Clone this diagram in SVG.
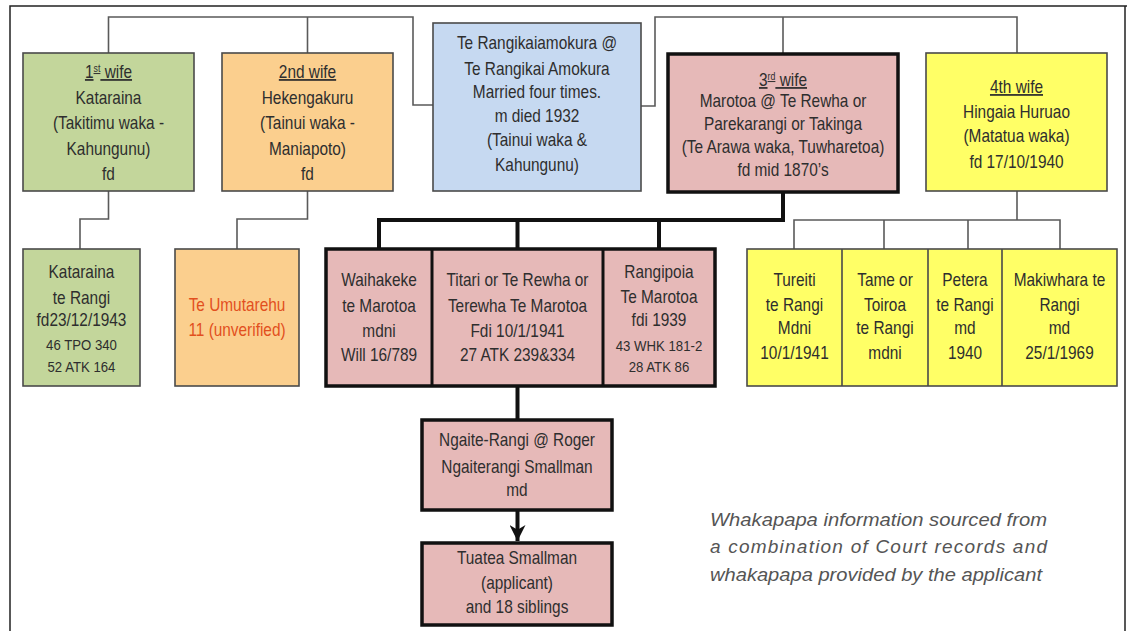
<svg xmlns="http://www.w3.org/2000/svg" width="1127" height="631" viewBox="0 0 1127 631">
<defs>
<style>
.t{font-family:"Liberation Sans",Arial,sans-serif;font-size:17.5px;fill:#2e2e2e;text-anchor:middle}
.s{font-size:15px}
.u{text-decoration:underline}
.thin{fill:none;stroke:#5a5a5a;stroke-width:1.6}
.thick{fill:none;stroke:#111;stroke-width:4}
.bx{stroke:#4a4a4a;stroke-width:1.6}
.pk{fill:#e6b9b8;stroke:#111;stroke-width:3.5}
.g{fill:#c3d69b}.o{fill:#fbcf8e}.b{fill:#c6d9f1}.y{fill:#ffff66}
.note{font-family:"Liberation Sans",Arial,sans-serif;font-style:italic;font-size:19px;fill:#555}
</style>
<marker id="ar" viewBox="0 0 10 10" refX="10" refY="5" markerWidth="4" markerHeight="4" orient="auto" markerUnits="strokeWidth">
<path d="M0,0 L10,5 L0,10 L3,5 Z" fill="#111"/>
</marker>
</defs>
<rect x="0" y="0" width="1127" height="631" fill="#fff"/>
<path d="M10,631 V6 H1127 M1125,6 V631" fill="none" stroke="#222" stroke-width="1.5"/>

<g id="connectors">
<path class="thin" d="M108.5,53 V17 H413 V105 H433"/>
<path class="thin" d="M307.5,17 V53"/>
<path class="thin" d="M641,106 H655 V17 H1017 V53"/>
<path class="thin" d="M783,17 V53"/>
<path class="thin" d="M108.5,191 V219 H80 V249"/>
<path class="thin" d="M307.5,191 V219 H237 V249"/>
<path class="thick" d="M783,192 V220 H379 V249"/>
<path class="thick" d="M517.5,220 V249 M659,220 V249"/>
<path class="thin" d="M1017,191 V220 M794,249 V220 H1060 V249 M884,220 V249 M968,220 V249"/>
<path class="thick" d="M517.5,386 V420"/>
<path class="thick" d="M517.5,510 V541" marker-end="url(#ar)"/>
</g>

<g id="wife1">
<rect class="bx g" x="23" y="53" width="171" height="138"/>
<g transform="matrix(0.88 0 0 1 13.02 0)">
<text class="t" x="108.5" y="78"><tspan class="u">1<tspan font-size="10" dy="-6">st</tspan><tspan dy="6"> wife</tspan></tspan></text>
<text class="t" x="108.5" y="104">Kataraina</text>
<text class="t" x="108.5" y="129">(Takitimu waka -</text>
<text class="t" x="108.5" y="155">Kahungunu)</text>
<text class="t" x="108.5" y="180">fd</text>
</g>
</g>

<g id="wife2">
<rect class="bx o" x="222" y="53" width="171" height="138"/>
<g transform="matrix(0.88 0 0 1 36.9 0)">
<text class="t u" x="307.5" y="78">2nd wife</text>
<text class="t" x="307.5" y="104">Hekengakuru</text>
<text class="t" x="307.5" y="129">(Tainui waka -</text>
<text class="t" x="307.5" y="155">Maniapoto)</text>
<text class="t" x="307.5" y="180">fd</text>
</g>
</g>

<g id="father">
<rect class="bx b" x="433" y="23" width="208" height="168"/>
<g transform="matrix(0.88 0 0 1 64.44 0)">
<text class="t" x="537" y="49">Te Rangikaiamokura @</text>
<text class="t" x="537" y="75">Te Rangikai Amokura</text>
<text class="t" x="537" y="98">Married four times.</text>
<text class="t" x="537" y="122">m died 1932</text>
<text class="t" x="537" y="146">(Tainui waka &amp;</text>
<text class="t" x="537" y="171">Kahungunu)</text>
</g>
</g>

<g id="wife3">
<rect class="pk" x="668" y="54" width="230" height="138"/>
<g transform="matrix(0.88 0 0 1 93.96 0)">
<text class="t" x="783" y="86"><tspan class="u">3<tspan font-size="10" dy="-6">rd</tspan><tspan dy="6"> wife</tspan></tspan></text>
<text class="t" x="783" y="107">Marotoa @ Te Rewha or</text>
<text class="t" x="783" y="130">Parekarangi or Takinga</text>
<text class="t" x="783" y="153">(Te Arawa waka, Tuwharetoa)</text>
<text class="t" x="783" y="176">fd mid 1870’s</text>
</g>
</g>

<g id="wife4">
<rect class="bx y" x="926" y="53" width="181" height="138"/>
<g transform="matrix(0.88 0 0 1 121.98 0)">
<text class="t u" x="1016.5" y="93">4th wife</text>
<text class="t" x="1016.5" y="118">Hingaia Huruao</text>
<text class="t" x="1016.5" y="142">(Matatua waka)</text>
<text class="t" x="1016.5" y="168">fd 17/10/1940</text>
</g>
</g>

<g id="kataraina">
<rect class="bx g" x="23" y="249" width="117" height="137"/>
<g transform="matrix(0.88 0 0 1 9.78 0)">
<text class="t" x="81.5" y="278">Kataraina</text>
<text class="t" x="81.5" y="304">te Rangi</text>
<text class="t" x="81.5" y="326">fd23/12/1943</text>
<text class="t s" x="81.5" y="350">46 TPO 340</text>
<text class="t s" x="81.5" y="372">52 ATK 164</text>
</g>
</g>

<g id="umutarehu">
<rect class="bx o" x="175" y="249" width="124" height="137"/>
<g transform="matrix(0.88 0 0 1 28.44 0)">
<text class="t" x="237" y="311" style="fill:#e2501e">Te Umutarehu</text>
<text class="t" x="237" y="336" style="fill:#e2501e">11 (unverified)</text>
</g>
</g>

<g id="marotoa-children">
<rect class="pk" x="326" y="249" width="389" height="137"/>
<path d="M432,249 V386 M603,249 V386" stroke="#111" stroke-width="3"/>
</g>
<g id="waihakeke" transform="matrix(0.88 0 0 1 45.48 0)">
<text class="t" x="379" y="286">Waihakeke</text>
<text class="t" x="379" y="312">te Marotoa</text>
<text class="t" x="379" y="337">mdni</text>
<text class="t" x="379" y="361">Will  16/789</text>
</g>
<g id="titari" transform="matrix(0.88 0 0 1 62.1 0)">
<text class="t" x="517.5" y="286">Titari or Te Rewha or</text>
<text class="t" x="517.5" y="312">Terewha  Te Marotoa</text>
<text class="t" x="517.5" y="337">Fdi 10/1/1941</text>
<text class="t" x="517.5" y="361">27 ATK 239&amp;334</text>
</g>
<g id="rangipoia" transform="matrix(0.88 0 0 1 79.08 0)">
<text class="t" x="659" y="278">Rangipoia</text>
<text class="t" x="659" y="303">Te Marotoa</text>
<text class="t" x="659" y="326">fdi 1939</text>
<text class="t s" x="659" y="351">43 WHK 181-2</text>
<text class="t s" x="659" y="372">28 ATK 86</text>
</g>

<g id="hingaia-children">
<rect class="bx y" x="747" y="249" width="370" height="137"/>
<path d="M842,249 V386 M928,249 V386 M1002,249 V386" stroke="#4a4a4a" stroke-width="1.6"/>
</g>
<g id="tureiti" transform="matrix(0.88 0 0 1 95.34 0)">
<text class="t" x="794.5" y="286">Tureiti</text>
<text class="t" x="794.5" y="311">te Rangi</text>
<text class="t" x="794.5" y="334">Mdni</text>
<text class="t" x="794.5" y="359">10/1/1941</text>
</g>
<g id="tame" transform="matrix(0.88 0 0 1 106.2 0)">
<text class="t" x="885" y="286">Tame or</text>
<text class="t" x="885" y="311">Toiroa</text>
<text class="t" x="885" y="334">te Rangi</text>
<text class="t" x="885" y="359">mdni</text>
</g>
<g id="petera" transform="matrix(0.88 0 0 1 115.8 0)">
<text class="t" x="965" y="286">Petera</text>
<text class="t" x="965" y="311">te Rangi</text>
<text class="t" x="965" y="334">md</text>
<text class="t" x="965" y="359">1940</text>
</g>
<g id="makiwhara" transform="matrix(0.88 0 0 1 127.14 0)">
<text class="t" x="1059.5" y="286">Makiwhara te</text>
<text class="t" x="1059.5" y="311">Rangi</text>
<text class="t" x="1059.5" y="334">md</text>
<text class="t" x="1059.5" y="359">25/1/1969</text>
</g>

<g id="ngaite">
<rect class="pk" x="422" y="420" width="190" height="90"/>
<g transform="matrix(0.88 0 0 1 62.04 0)">
<text class="t" x="517" y="446">Ngaite-Rangi @ Roger</text>
<text class="t" x="517" y="473">Ngaiterangi Smallman</text>
<text class="t" x="517" y="496">md</text>
</g>
</g>

<g id="tuatea">
<rect class="pk" x="422" y="543" width="190" height="82"/>
<g transform="matrix(0.88 0 0 1 62.04 0)">
<text class="t" x="517" y="564">Tuatea Smallman</text>
<text class="t" x="517" y="589">(applicant)</text>
<text class="t" x="517" y="613">and 18 siblings</text>
</g>
</g>

<g id="note">
<text class="note" x="710" y="526" textLength="337" lengthAdjust="spacingAndGlyphs">Whakapapa information sourced from</text>
<text class="note" x="710" y="553" textLength="337" lengthAdjust="spacing">a combination of Court records and</text>
<text class="note" x="710" y="581" textLength="332" lengthAdjust="spacingAndGlyphs">whakapapa provided by the applicant</text>
</g>
</svg>
